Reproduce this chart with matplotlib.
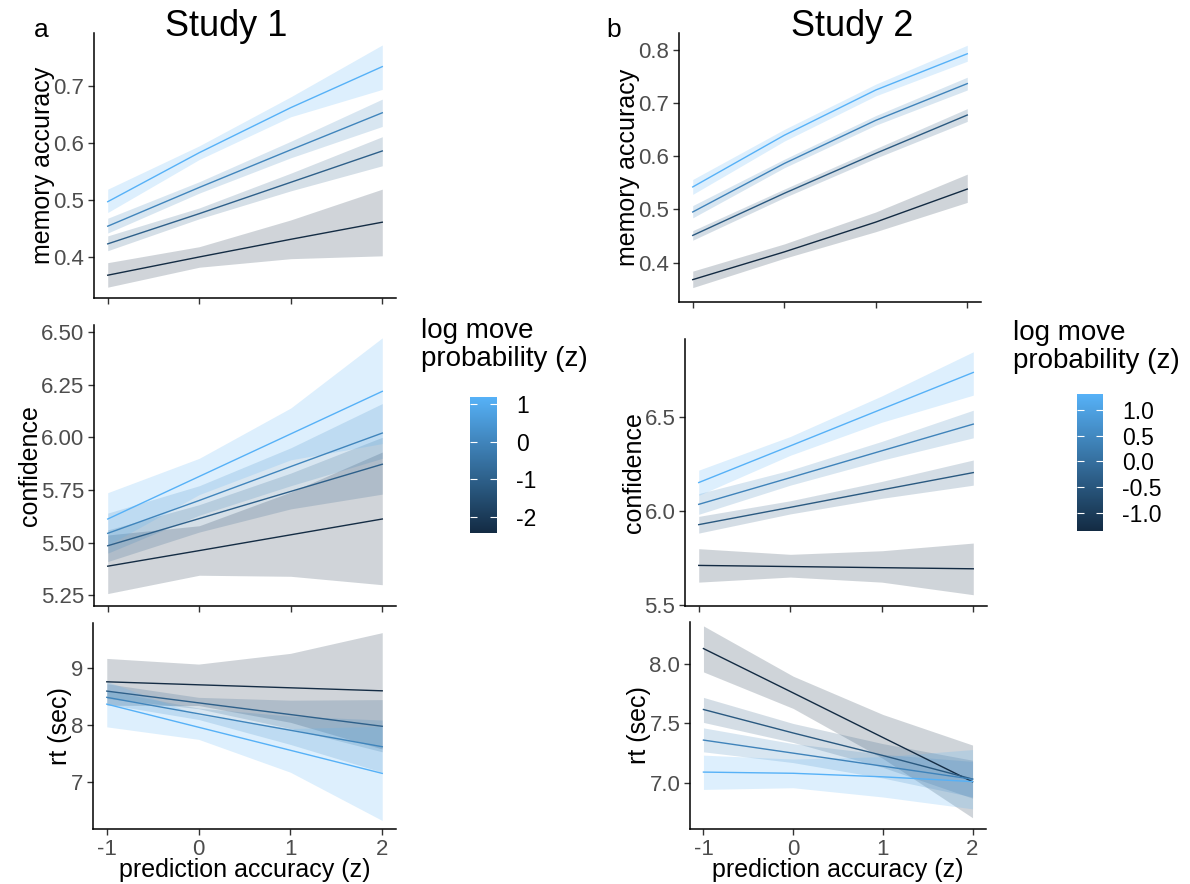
import numpy as np
import matplotlib
matplotlib.use("Agg")
import matplotlib.pyplot as plt
from matplotlib.colors import LinearSegmentedColormap, Normalize
from matplotlib.cm import ScalarMappable

plt.rcParams['font.family'] = ['Liberation Sans', 'DejaVu Sans']

# ---------------- data ----------------
pred_acc = [-1, 0, 1, 2]

# Study 1 move-probability levels (dark -> light) and colourbar range
s1_levels = [-2.4, -1.0, 0.0, 1.19]
s1_range = (-2.44, 1.19)
s1_ticks = [-2, -1, 0, 1]
# Study 2
s2_levels = [-1.36, -0.45, 0.4, 1.31]
s2_range = (-1.36, 1.31)
s2_ticks = [-1.0, -0.5, 0.0, 0.5, 1.0]

# Study 1 memory accuracy
s1_mem_fit = [[0.368, 0.400, 0.431, 0.461], [0.423, 0.476, 0.531, 0.586],
              [0.454, 0.522, 0.588, 0.653], [0.497, 0.583, 0.662, 0.734]]
s1_mem_lo = [[0.347, 0.382, 0.397, 0.402], [0.411, 0.467, 0.516, 0.560],
             [0.442, 0.512, 0.574, 0.629], [0.478, 0.571, 0.646, 0.694]]
s1_mem_hi = [[0.390, 0.418, 0.465, 0.519], [0.437, 0.486, 0.547, 0.611],
             [0.468, 0.532, 0.603, 0.677], [0.519, 0.595, 0.681, 0.772]]

# Study 1 confidence
s1_conf_fit = [[5.388, 5.462, 5.537, 5.612], [5.485, 5.614, 5.743, 5.872],
               [5.544, 5.700, 5.861, 6.020], [5.612, 5.814, 6.016, 6.218]]
s1_conf_lo = [[5.258, 5.345, 5.340, 5.300], [5.410, 5.550, 5.660, 5.730],
              [5.450, 5.630, 5.770, 5.900], [5.487, 5.728, 5.893, 5.970]]
s1_conf_hi = [[5.536, 5.580, 5.740, 5.930], [5.560, 5.680, 5.830, 6.000],
              [5.640, 5.770, 5.950, 6.160], [5.737, 5.900, 6.139, 6.472]]

# Study 1 rt
s1_rt_fit = [[8.764, 8.711, 8.658, 8.605], [8.600, 8.393, 8.187, 7.980],
             [8.490, 8.200, 7.910, 7.620], [8.370, 7.963, 7.557, 7.150]]
s1_rt_lo = [[8.350, 8.346, 8.050, 7.580], [8.470, 8.290, 7.940, 7.530],
            [8.370, 8.100, 7.660, 7.170], [7.970, 7.750, 7.170, 6.320]]
s1_rt_hi = [[9.176, 9.076, 9.265, 9.630], [8.730, 8.490, 8.440, 8.450],
            [8.610, 8.300, 8.160, 8.090], [8.770, 8.180, 7.940, 7.980]]

# Study 2 memory accuracy
s2_mem_fit = [[0.368, 0.420, 0.476, 0.538], [0.451, 0.530, 0.605, 0.677],
              [0.495, 0.586, 0.667, 0.736], [0.542, 0.639, 0.724, 0.792]]
s2_mem_lo = [[0.353, 0.408, 0.458, 0.513], [0.442, 0.522, 0.596, 0.665],
             [0.484, 0.578, 0.658, 0.724], [0.528, 0.628, 0.713, 0.778]]
s2_mem_hi = [[0.384, 0.435, 0.495, 0.566], [0.460, 0.538, 0.614, 0.689],
             [0.507, 0.594, 0.676, 0.748], [0.556, 0.650, 0.735, 0.808]]

# Study 2 confidence
s2_conf_fit = [[5.712, 5.706, 5.700, 5.694], [5.929, 6.021, 6.114, 6.206],
               [6.037, 6.179, 6.322, 6.464], [6.153, 6.348, 6.544, 6.739]]
s2_conf_lo = [[5.623, 5.650, 5.623, 5.556], [5.884, 5.986, 6.069, 6.139],
              [5.984, 6.139, 6.272, 6.391], [6.085, 6.298, 6.474, 6.618]]
s2_conf_hi = [[5.801, 5.771, 5.790, 5.831], [5.973, 6.056, 6.159, 6.273],
              [6.094, 6.219, 6.372, 6.538], [6.219, 6.398, 6.614, 6.849]]

# Study 2 rt
s2_rt_fit = [[8.132, 7.758, 7.382, 7.008], [7.618, 7.420, 7.230, 7.031],
             [7.360, 7.250, 7.140, 7.030], [7.090, 7.080, 7.050, 7.010]]
s2_rt_lo = [[7.935, 7.627, 7.205, 6.705], [7.509, 7.340, 7.130, 6.870],
            [7.261, 7.170, 7.040, 6.880], [6.944, 6.958, 6.880, 6.780]]
s2_rt_hi = [[8.323, 7.899, 7.576, 7.318], [7.720, 7.500, 7.330, 7.190],
            [7.463, 7.330, 7.240, 7.180], [7.233, 7.200, 7.220, 7.280]]

# ---------------- figure ----------------
W, H = 1190, 884
fig = plt.figure(figsize=(W / 100, H / 100), dpi=100)
cmap = LinearSegmentedColormap.from_list("gg", ["#132B43", "#56B1F7"])


def add_ax(x0, y0, x1, y1):
    return fig.add_axes([x0 / W, 1 - y1 / H, (x1 - x0) / W, (y1 - y0) / H])


def panel(ax, fit, lo, hi, levels, vrange, ylim, yticks, ylabels, ylabel, xlab):
    norm = Normalize(*vrange)
    cols = [cmap(norm(v)) for v in levels]
    for f, l, h, c in zip(fit, lo, hi, cols):
        ax.fill_between(pred_acc, l, h, color=c, alpha=0.2, lw=0)
    for f, c in zip(fit, cols):
        ax.plot(pred_acc, f, color=c, lw=1.0)
    ax.set_xlim(-1.15, 2.15)
    ax.set_ylim(*ylim)
    ax.set_yticks(yticks)
    ax.set_yticklabels(ylabels)
    ax.set_xticks([-1, 0, 1, 2])
    for s in ['top', 'right']:
        ax.spines[s].set_visible(False)
    for s in ['left', 'bottom']:
        ax.spines[s].set_linewidth(1.1)
        ax.spines[s].set_color('black')
    ax.tick_params(length=4, width=1.0, color='#333333', labelcolor='#4D4D4D',
                   labelsize=16, pad=3)
    ax.set_ylabel(ylabel, fontsize=18, labelpad=-1)
    if xlab:
        ax.set_xticklabels(['-1', '0', '1', '2'])
        ax.set_xlabel('prediction accuracy (z)', fontsize=18, labelpad=-1)
    else:
        ax.set_xticklabels([])


# Study 1
a1 = add_ax(94, 33, 396, 298)
panel(a1, s1_mem_fit, s1_mem_lo, s1_mem_hi, s1_levels, s1_range, (0.328, 0.793),
      [0.4, 0.5, 0.6, 0.7], ['0.4', '0.5', '0.6', '0.7'], 'memory accuracy', False)
a2 = add_ax(94, 325, 396, 606)
panel(a2, s1_conf_fit, s1_conf_lo, s1_conf_hi, s1_levels, s1_range, (5.199, 6.533),
      [5.25, 5.5, 5.75, 6.0, 6.25, 6.5], ['5.25', '5.50', '5.75', '6.00', '6.25', '6.50'],
      'confidence', False)
a3 = add_ax(93, 623, 396, 829)
panel(a3, s1_rt_fit, s1_rt_lo, s1_rt_hi, s1_levels, s1_range, (6.17, 9.80),
      [7, 8, 9], ['7', '8', '9'], 'rt (sec)', True)

# Study 2
b1 = add_ax(679, 33, 981, 302)
panel(b1, s2_mem_fit, s2_mem_lo, s2_mem_hi, s2_levels, s2_range, (0.326, 0.831),
      [0.4, 0.5, 0.6, 0.7, 0.8], ['0.4', '0.5', '0.6', '0.7', '0.8'], 'memory accuracy', False)
b2 = add_ax(685, 339, 987, 606)
panel(b2, s2_conf_fit, s2_conf_lo, s2_conf_hi, s2_levels, s2_range, (5.496, 6.917),
      [5.5, 6.0, 6.5], ['5.5', '6.0', '6.5'], 'confidence', False)
b3 = add_ax(690, 622, 986, 829)
panel(b3, s2_rt_fit, s2_rt_lo, s2_rt_hi, s2_levels, s2_range, (6.61, 8.356),
      [7.0, 7.5, 8.0], ['7.0', '7.5', '8.0'], 'rt (sec)', True)

# titles and panel letters
fig.text(226 / W, 1 - 27 / H, 'Study 1', fontsize=26, ha='center', va='center')
fig.text(852 / W, 1 - 27 / H, 'Study 2', fontsize=26, ha='center', va='center')
fig.text(41 / W, 1 - 30 / H, 'a', fontsize=19, ha='center', va='center')
fig.text(614 / W, 1 - 30 / H, 'b', fontsize=19, ha='center', va='center')


def colorbar(x0, y0, x1, y1, vrange, ticks, labels, tx, ty):
    cax = add_ax(x0, y0, x1, y1)
    sm = ScalarMappable(norm=Normalize(*vrange), cmap=cmap)
    cb = fig.colorbar(sm, cax=cax)
    cb.outline.set_visible(False)
    cb.set_ticks(ticks)
    cb.set_ticklabels(labels)
    cax.tick_params(axis='y', which='both', direction='in', left=True, right=True,
                    length=5, width=0.8, color='white', labelcolor='black',
                    labelsize=16.5, pad=14)
    fig.text(tx / W, 1 - ty / H, 'log move\nprobability (z)', fontsize=20,
             ha='left', va='top', linespacing=1.1)


colorbar(470, 397, 497, 533, s1_range, s1_ticks, ['-2', '-1', '0', '1'], 421, 318)
colorbar(1077, 394, 1103, 531, s2_range, s2_ticks,
         ['-1.0', '-0.5', '0.0', '0.5', '1.0'], 1013, 320)

fig.savefig('out.png', dpi=100)
